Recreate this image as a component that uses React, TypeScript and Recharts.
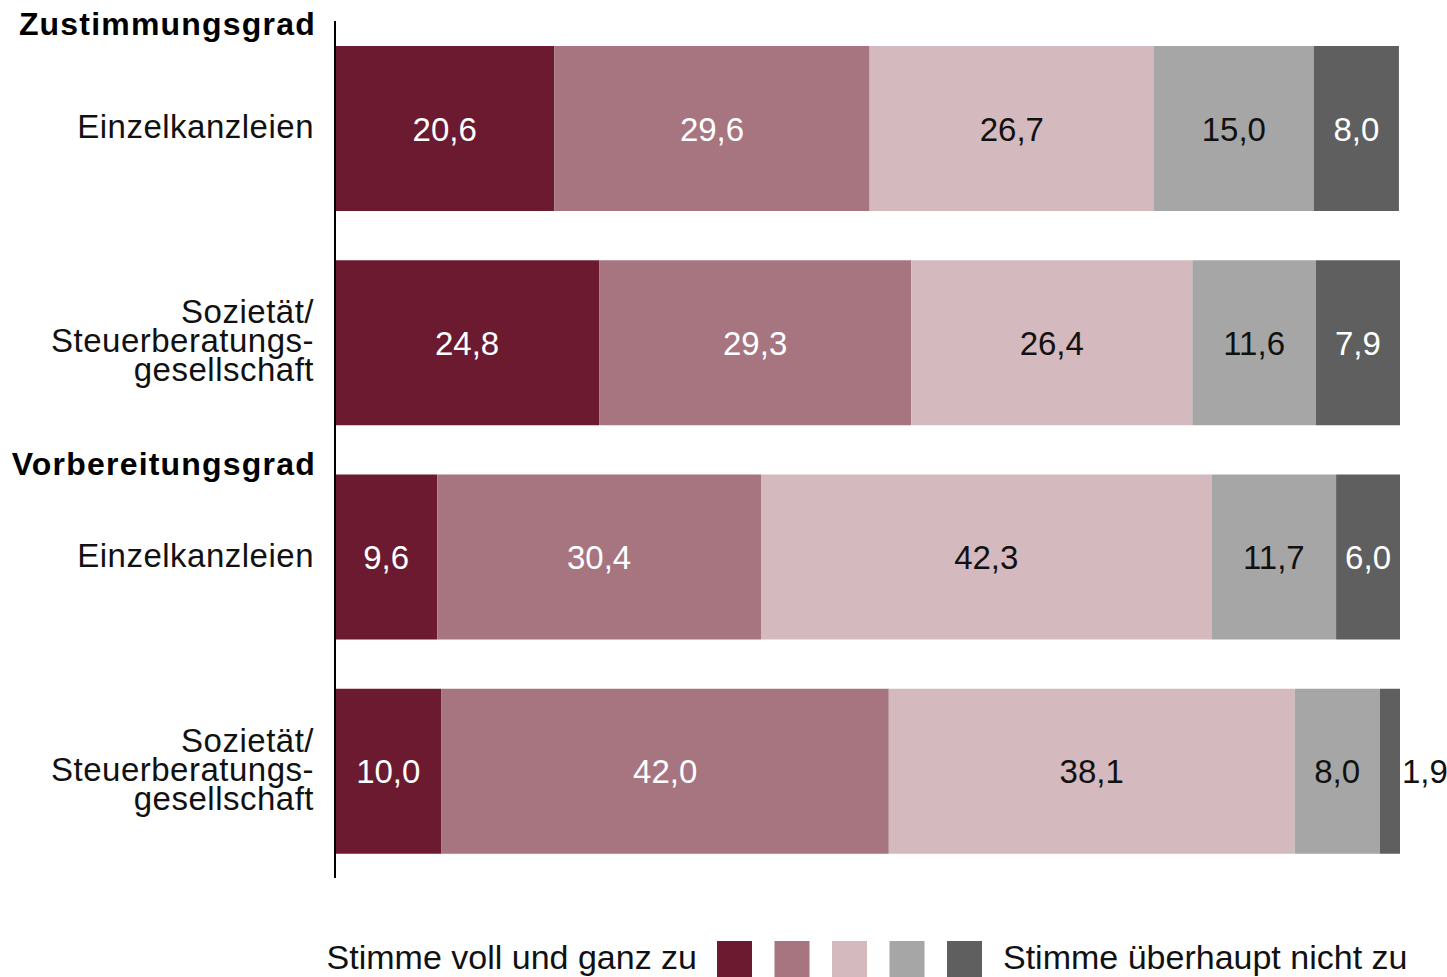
import React from "react";
import { BarChart, Bar, XAxis, YAxis, LabelList } from "recharts";

// row keys and their (multi-line) labels
const categories = ["ez-zust", "soz-zust", "ez-vorb", "soz-vorb"];
const categoryLines = [
  ["Einzelkanzleien"],
  ["Sozietät/", "Steuerberatungs-", "gesellschaft"],
  ["Einzelkanzleien"],
  ["Sozietät/", "Steuerberatungs-", "gesellschaft"],
];
// bold group heading shown above a row
const groupHeadings = ["Zustimmungsgrad", "", "Vorbereitungsgrad", ""];

// shares in percent, from "voll und ganz" to "überhaupt nicht"
const stimmeVoll = [20.6, 24.8, 9.6, 10.0];
const stimmeEher = [29.6, 29.3, 30.4, 42.0];
const teilsTeils = [26.7, 26.4, 42.3, 38.1];
const eherNicht = [15.0, 11.6, 11.7, 8.0];
const garNicht = [8.0, 7.9, 6.0, 1.9];

const legendLeft = "Stimme voll und ganz zu";
const legendRight = "Stimme überhaupt nicht zu";

const COLORS = ["#6B1A30", "#A67580", "#D4B9BF", "#A6A6A6", "#5F5F5F"];
const LABEL_COLORS = ["#ffffff", "#ffffff", "#111111", "#111111", "#ffffff"];
const FONT = "'Liberation Sans', Arial, sans-serif";

const data = categories.map((c, i) => ({
  cat: c,
  s0: stimmeVoll[i],
  s1: stimmeEher[i],
  s2: teilsTeils[i],
  s3: eherNicht[i],
  s4: garNicht[i],
}));

const CategoryTick = (props: any) => {
  const { y, payload } = props;
  const idx = payload.index;
  const lines = categoryLines[idx];
  const lh = 29;
  const first = y + 10 - ((lines.length - 1) * lh) / 2;
  const heading = groupHeadings[idx];
  const headingOffset = idx === 0 ? -93 : -82;
  return (
    <g>
      {heading && (
        <text
          x={316}
          y={y + headingOffset}
          textAnchor="end"
          fontSize={32}
          letterSpacing={1.2}
          fontWeight="bold"
          fill="#000"
          fontFamily={FONT}
        >
          {heading}
        </text>
      )}
      {lines.map((l, k) => (
        <text
          key={k}
          x={314}
          y={first + k * lh}
          textAnchor="end"
          fontSize={33}
          letterSpacing={0.5}
          fill="#111"
          fontFamily={FONT}
        >
          {l}
        </text>
      ))}
    </g>
  );
};

const makeLabel = (s: number) => (props: any) => {
  const { x, y, width, height, value } = props;
  const txt = Number(value).toFixed(1).replace(".", ",");
  const outside = width < 40;
  return (
    <text
      x={outside ? x + width + 2 : x + width / 2}
      y={y + height / 2 + 12}
      textAnchor={outside ? "start" : "middle"}
      fontSize={33}
      fill={outside ? "#111" : LABEL_COLORS[s]}
      fontFamily={FONT}
    >
      {txt}
    </text>
  );
};

export default function App() {
  return (
    <div style={{ position: "absolute", left: 0, top: 0, width: 1447, height: 977, background: "#fff" }}>
      <BarChart
        width={1447}
        height={977}
        data={data}
        layout="vertical"
        margin={{ top: 21, right: 47, bottom: 99, left: 0 }}
      >
        <XAxis type="number" domain={[0, 100]} hide />
        <YAxis
          type="category"
          dataKey="cat"
          width={335}
          axisLine={{ stroke: "#000", strokeWidth: 2 }}
          tickLine={false}
          tick={<CategoryTick />}
          interval={0}
        />
        {["s0", "s1", "s2", "s3", "s4"].map((k, i) => (
          <Bar key={k} dataKey={k} stackId="a" fill={COLORS[i]} barSize={165} isAnimationActive={false}>
            <LabelList dataKey={k} content={makeLabel(i)} />
          </Bar>
        ))}
      </BarChart>
      <svg width={1447} height={60} style={{ position: "absolute", left: 0, top: 917 }}>
        <text x={697} y={52} textAnchor="end" fontSize={34} fill="#111" fontFamily={FONT}>
          {legendLeft}
        </text>
        {COLORS.map((c, i) => (
          <rect key={c} x={717 + i * 57.5} y={24} width={35} height={36} fill={c} />
        ))}
        <text x={1003} y={52} textAnchor="start" fontSize={34} fill="#111" fontFamily={FONT}>
          {legendRight}
        </text>
      </svg>
    </div>
  );
}
